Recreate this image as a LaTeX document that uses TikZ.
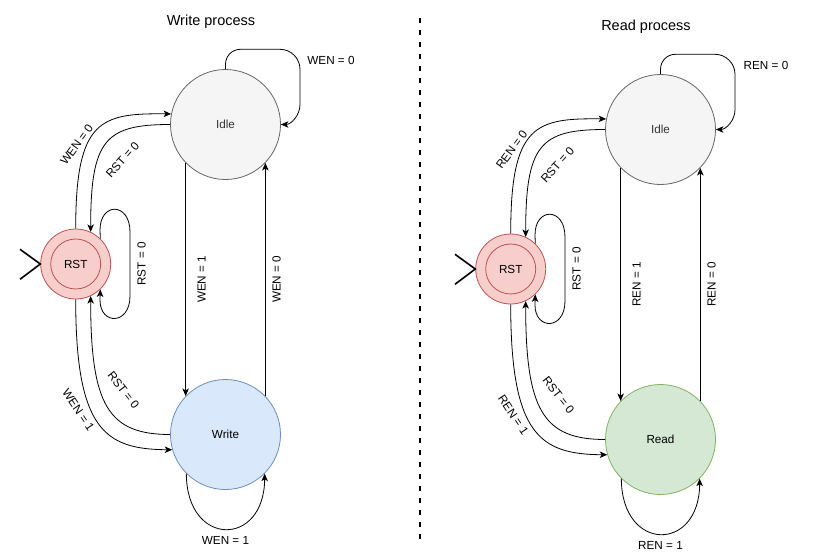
\documentclass[tikz,border=0pt]{standalone}
\usepackage{fontspec}
\setmainfont{Liberation Sans}
\usetikzlibrary{arrows.meta}
\definecolor{idlefill}{HTML}{F5F5F5}
\definecolor{idledraw}{HTML}{666666}
\definecolor{idletext}{HTML}{333333}
\definecolor{rstfill}{HTML}{F8CECC}
\definecolor{rstdraw}{HTML}{B85450}
\definecolor{wrfill}{HTML}{DAE8FC}
\definecolor{wrdraw}{HTML}{6C8EBF}
\definecolor{rdfill}{HTML}{D5E8D4}
\definecolor{rddraw}{HTML}{82B366}
\tikzset{
  statebase/.style={circle, line width=0.8pt, minimum size=110pt, inner sep=0pt, font=\fontsize{11.7}{14}\selectfont},
  idlestate/.style={statebase, draw=idledraw, fill=idlefill, text=idletext},
  writestate/.style={statebase, draw=wrdraw, fill=wrfill},
  readstate/.style={statebase, draw=rddraw, fill=rdfill},
  rststate/.style={circle, draw=rstdraw, fill=rstfill, line width=0.8pt, minimum size=70pt, inner sep=0pt},
  rstinner/.style={circle, draw=rstdraw, line width=0.8pt, minimum size=50pt, inner sep=0pt, font=\fontsize{11.7}{14}\selectfont},
  edge/.style={draw, line width=0.8pt, -{Stealth[length=7.5pt,width=6.5pt,inset=2pt]}},
  lbl/.style={font=\fontsize{11.7}{14}\selectfont, inner sep=0pt},
  titletext/.style={font=\fontsize{14.5}{17}\selectfont, inner sep=0pt},
  initmark/.style={draw, line width=1.6pt, line join=miter},
  divider/.style={draw, line width=1.6pt, dash pattern=on 5pt off 7pt},
}
\newcommand{\fsmhalf}[6]{%
  \begin{scope}[shift={(#6)}]
    \node[titletext] (#1title) at (211,21.7) {#5};
    \node[idlestate] (#1idle) at (225.5,124.5) {Idle};
    \node[rststate] (#1rst) at (75.7,264) {};
    \node[rstinner] (#1rstin) at (75.7,264) {RST};
    \node[#4] (#1work) at (225.5,434.5) {#3};
    \coordinate (#1inA) at (20,249.3);
    \coordinate (#1inB) at (20,279.3);
    \draw[initmark] (#1inA) -- (#1rst.west) -- (#1inB);
    % RST <-> Idle
    \draw[edge] (#1rst.90) .. controls (75.7,120) and (100,113) .. (#1idle.169);
    \draw[edge] (#1idle.180) .. controls (105,124.5) and (90.7,140) .. (#1rst.65);
    % RST <-> work
    \draw[edge] (#1rst.270) .. controls (75.7,430) and (105,449.3) .. (#1work.196);
    \draw[edge] (#1work.180) .. controls (108,434.5) and (90.7,405) .. (#1rst.295);
    % Idle <-> work
    \draw[edge] (#1idle.224) -- (#1work.136);
    \draw[edge] (#1work.44) -- (#1idle.316);
    % self loops
    \draw[edge] (#1idle.90) -- (225.5,64.3) .. controls (225.5,56) and (232,49.3) .. (240.5,49.3)
       -- (280,49.3) .. controls (291,49.3) and (300,58.3) .. (300,69.3) -- (300,104.5)
       .. controls (300,115.5) and (291,124.5) .. (#1idle.0);
    \draw[edge] (#1rst.46) -- (100,230) .. controls (100,202) and (130,202) .. (130,232)
       -- (130,296) .. controls (130,325.3) and (100,325.3) .. (100,300) -- (#1rst.314);
    \draw[edge] (#1work.225) .. controls (186.6,547.5) and (264.4,547.5) .. (#1work.315);
    % labels
    \node[lbl, rotate=54] (#1la) at (76.7,144.5) {#2 = 0};
    \node[lbl, rotate=48] (#1lb) at (122.5,160) {RST = 0};
    \node[lbl, rotate=90] (#1lc) at (141.7,264) {RST = 0};
    \node[lbl, rotate=90] (#1ld) at (201.7,279.3) {#2 = 1};
    \node[lbl, rotate=90] (#1le) at (276.7,279.3) {#2 = 0};
    \node[lbl, rotate=-56] (#1lf) at (78.3,410) {#2 = 1};
    \node[lbl, rotate=-52] (#1lg) at (123.5,390) {RST = 0};
    \node[lbl] (#1lh) at (225.5,540) {#2 = 1};
    \node[lbl] (#1li) at (331,60.7) {#2 = 0};
  \end{scope}}
\begin{document}
\begin{tikzpicture}[x=1pt, y=-1pt]
  \path[use as bounding box] (0,0) rectangle (831,560);
  \fsmhalf{w}{WEN}{Write}{writestate}{Write process}{0,0}
  \fsmhalf{r}{REN}{Read}{readstate}{Read process}{435,5}
  \coordinate (dtop) at (420,18);
  \coordinate (dbot) at (420,545);
  \draw[divider] (dtop) -- (dbot);
\end{tikzpicture}
\end{document}
